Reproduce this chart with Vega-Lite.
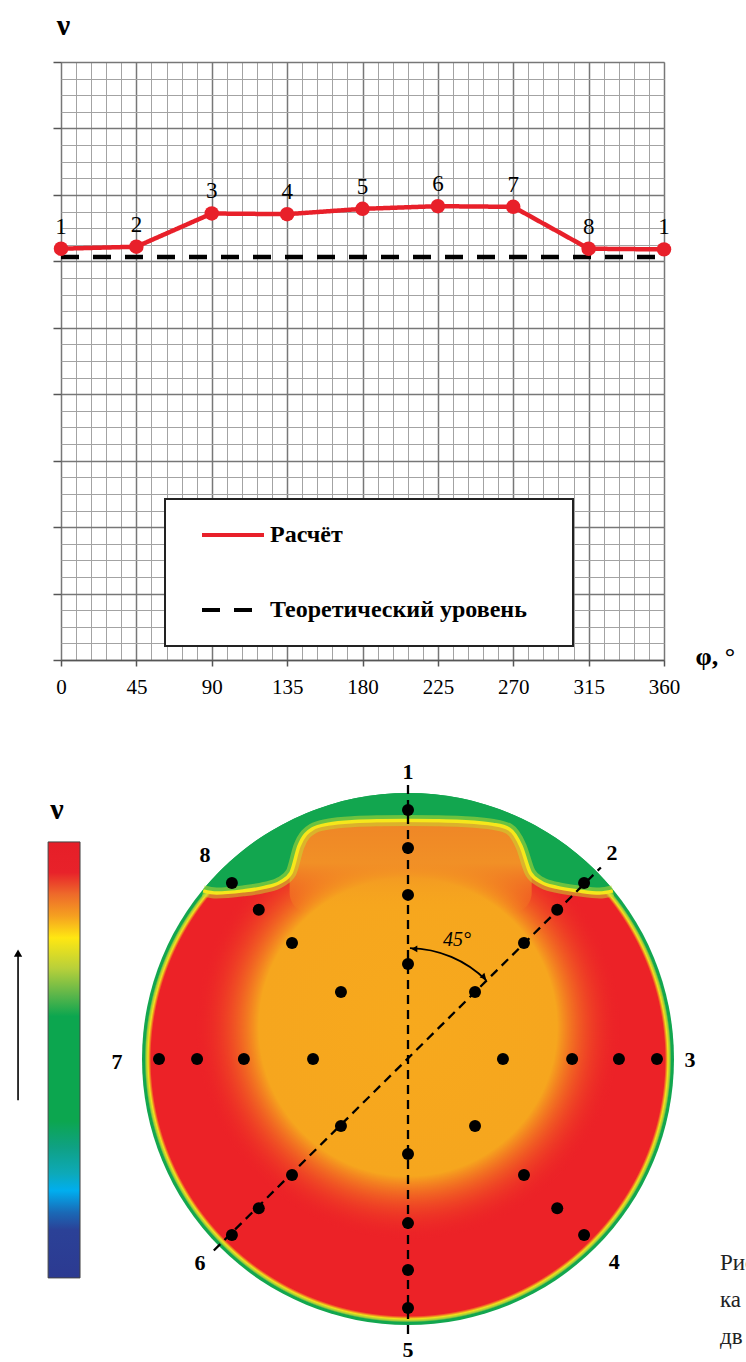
{
"$schema":"https://vega.github.io/schema/vega-lite/v6.json",
"width":603,"height":598,
"autosize":"none",
"padding":{"left":61,"top":62,"right":82,"bottom":702},
"background":"white",
"config":{"view":{"stroke":null},"font":"Liberation Serif","legend":{"strokeWidth":2}},
"datasets":{
"top":[
{"phi":0,"nu":6.19,"lab":"1","s":"Расчёт"},
{"phi":45,"nu":6.22,"lab":"2","s":"Расчёт"},
{"phi":90,"nu":6.72,"lab":"3","s":"Расчёт"},
{"phi":135,"nu":6.71,"lab":"4","s":"Расчёт"},
{"phi":180,"nu":6.79,"lab":"5","s":"Расчёт"},
{"phi":225,"nu":6.83,"lab":"6","s":"Расчёт"},
{"phi":270,"nu":6.82,"lab":"7","s":"Расчёт"},
{"phi":315,"nu":6.19,"lab":"8","s":"Расчёт"},
{"phi":360,"nu":6.18,"lab":"1","s":"Расчёт"},
{"phi":0,"nu":6.065,"s":"Теоретический уровень"},
{"phi":360,"nu":6.065,"s":"Теоретический уровень"}
],
"disc":[
{"part":"base","x":0,"y":0,"t0":0,"t1":360,"r":1},
{"part":"inner","x":0,"y":0.12,"t0":0,"t1":360,"r":0.8},
{"part":"angle","x":0,"y":0,"t0":1,"t1":45,"r":0.417}
],
"lobe":[{"x":-0.445,"y":0.89,"x2":0.465,"y2":0.55}],
"cap":[
{"x":-0.77,"y":0.638,"yb":0.632},
{"x":-0.72,"y":0.694,"yb":0.624},
{"x":-0.62,"y":0.785,"yb":0.632},
{"x":-0.54,"y":0.842,"yb":0.645},
{"x":-0.48,"y":0.877,"yb":0.665},
{"x":-0.44,"y":0.898,"yb":0.70},
{"x":-0.41,"y":0.912,"yb":0.80},
{"x":-0.36,"y":0.933,"yb":0.865},
{"x":-0.30,"y":0.954,"yb":0.883},
{"x":-0.20,"y":0.980,"yb":0.893},
{"x":-0.10,"y":0.995,"yb":0.896},
{"x":0,"y":1.0,"yb":0.897},
{"x":0.10,"y":0.995,"yb":0.896},
{"x":0.20,"y":0.980,"yb":0.893},
{"x":0.32,"y":0.947,"yb":0.882},
{"x":0.38,"y":0.925,"yb":0.865},
{"x":0.425,"y":0.905,"yb":0.80},
{"x":0.46,"y":0.888,"yb":0.70},
{"x":0.50,"y":0.866,"yb":0.665},
{"x":0.56,"y":0.828,"yb":0.645},
{"x":0.64,"y":0.768,"yb":0.632},
{"x":0.72,"y":0.694,"yb":0.624},
{"x":0.77,"y":0.638,"yb":0.632}
],
"lines":[
{"x":0,"y":1.03,"x2":0,"y2":-1.05},
{"x":-0.73,"y":-0.72,"x2":0.725,"y2":0.72}
],
"heads":[
{"end":"a","x":0.024,"y":0.414},
{"end":"b","x":0.286,"y":0.308}
],
"dots":[
{"x":0,"y":0.357},{"x":0,"y":0.617},{"x":0,"y":0.793},{"x":0,"y":0.936},
{"x":0.252,"y":0.252},{"x":0.436,"y":0.436},{"x":0.561,"y":0.561},{"x":0.662,"y":0.662},
{"x":0.357,"y":0},{"x":0.617,"y":0},{"x":0.793,"y":0},{"x":0.936,"y":0},
{"x":0.252,"y":-0.252},{"x":0.436,"y":-0.436},{"x":0.561,"y":-0.561},{"x":0.662,"y":-0.662},
{"x":0,"y":-0.357},{"x":0,"y":-0.617},{"x":0,"y":-0.793},{"x":0,"y":-0.936},
{"x":-0.252,"y":-0.252},{"x":-0.436,"y":-0.436},{"x":-0.561,"y":-0.561},{"x":-0.662,"y":-0.662},
{"x":-0.357,"y":0},{"x":-0.617,"y":0},{"x":-0.793,"y":0},{"x":-0.936,"y":0},
{"x":-0.252,"y":0.252},{"x":-0.436,"y":0.436},{"x":-0.561,"y":0.561},{"x":-0.662,"y":0.662}
],
"dirlab":[
{"x":0,"y":1.08,"t":"1"},{"x":0.767,"y":0.774,"t":"2"},{"x":1.06,"y":-0.005,"t":"3"},{"x":0.775,"y":-0.763,"t":"4"},
{"x":0,"y":-1.095,"t":"5"},{"x":-0.782,"y":-0.767,"t":"6"},{"x":-1.094,"y":-0.01,"t":"7"},{"x":-0.763,"y":0.767,"t":"8"}
],
"cbar":[{"x":-1.353,"y":0.816,"x2":-1.233,"y2":-0.823}],
"deg":[{"x":0.184,"y":0.447,"t":"45°"}],
"nu":[{"x":-1.32,"y":0.936,"t":"ν"}],
"arrow":[{"x":-1.466,"y":-0.155,"y2":0.39}],
"arrowhead":[{"x":-1.466,"y":0.398}],
"caption":[
{"x":1.173,"y":-0.767,"t":"Рис."},
{"x":1.173,"y":-0.906,"t":"ка"},
{"x":1.173,"y":-1.045,"t":"дв"},
{"x":1.173,"y":-1.184,"t":"зв"}
]
},
"resolve":{"scale":{"x":"independent","y":"independent"}},
"layer":[
{
"data":{"name":"top"},
"mark":{"type":"point","opacity":0},
"encoding":{
"x":{"field":"phi","type":"quantitative","scale":{"domain":[0,360],"nice":false},
"axis":{"orient":"bottom","values":[0,9,18,27,36,45,54,63,72,81,90,99,108,117,126,135,144,153,162,171,180,189,198,207,216,225,234,243,252,261,270,279,288,297,306,315,324,333,342,351,360],"grid":true,"gridColor":"#a3a3a3","gridWidth":1,"ticks":false,"labels":false,"domain":false,"title":null}},
"y":{"field":"nu","type":"quantitative","scale":{"domain":[0,9],"nice":false},
"axis":{"orient":"left","values":[0,0.25,0.5,0.75,1,1.25,1.5,1.75,2,2.25,2.5,2.75,3,3.25,3.5,3.75,4,4.25,4.5,4.75,5,5.25,5.5,5.75,6,6.25,6.5,6.75,7,7.25,7.5,7.75,8,8.25,8.5,8.75,9],"grid":true,"gridColor":"#a3a3a3","gridWidth":1,"ticks":false,"labels":false,"domain":false,"title":null}}
}
},
{
"data":{"name":"top"},
"encoding":{
"x":{"field":"phi","type":"quantitative","scale":{"domain":[0,360],"nice":false},
"axis":{"orient":"bottom","values":[0,45,90,135,180,225,270,315,360],"grid":true,"gridColor":"#777777","gridWidth":1.5,"domain":true,"domainColor":"#555555","domainWidth":1.5,"ticks":true,"tickSize":6,"tickColor":"#555555","tickWidth":1.5,"labelFont":"Liberation Serif","labelFontSize":21,"labelColor":"#000000","labelPadding":10,"labelFlush":false,"labelOverlap":false,
"title":"φ, °","titleX":634,"titleY":-4,"titleAlign":"left","titleBaseline":"middle","titleAngle":0,"titleFont":"Liberation Serif","titleFontSize":26,"titleFontWeight":"bold","titleColor":"#000000"}},
"y":{"field":"nu","type":"quantitative","scale":{"domain":[0,9],"nice":false},
"axis":{"orient":"left","values":[0,1,2,3,4,5,6,7,8,9],"grid":true,"gridColor":"#777777","gridWidth":1.5,"domain":false,"ticks":true,"tickSize":8,"tickColor":"#555555","tickWidth":1.5,"labels":false,
"title":"ν","titleX":2,"titleY":-37,"titleAngle":0,"titleAlign":"center","titleBaseline":"middle","titleFont":"Liberation Serif","titleFontSize":30,"titleFontWeight":"bold","titleColor":"#000000"}}
},
"layer":[
{"mark":{"type":"line","strokeWidth":4.5},
"encoding":{
"color":{"field":"s","type":"nominal","scale":{"domain":["Расчёт","Теоретический уровень"],"range":["#E8202A","#000000"]},
"legend":{"title":" ","titleOrient":"right","titlePadding":22,"titleFontSize":8,"orient":"none","legendX":104,"legendY":437,"symbolType":"stroke","symbolSize":3844,"symbolStrokeWidth":4,"symbolOffset":11,"clipHeight":24,"labelFont":"Liberation Serif","labelFontSize":24,"labelFontWeight":"bold","labelColor":"#000000","labelOffset":4,"labelLimit":400,"rowPadding":51,"padding":24,"strokeColor":"#222222","fillColor":"#ffffff"}},
"strokeDash":{"field":"s","type":"nominal","scale":{"domain":["Расчёт","Теоретический уровень"],"range":[[1,0],[18,14]]},
"legend":{"title":" ","titleOrient":"right","titlePadding":22,"titleFontSize":8,"orient":"none","legendX":104,"legendY":437,"symbolType":"stroke","symbolSize":3844,"symbolStrokeWidth":4,"symbolOffset":11,"clipHeight":24,"labelFont":"Liberation Serif","labelFontSize":24,"labelFontWeight":"bold","labelColor":"#000000","labelOffset":4,"labelLimit":400,"rowPadding":51,"padding":24,"strokeColor":"#222222","fillColor":"#ffffff"}}
}},
{"transform":[{"filter":"datum.s === 'Расчёт'"}],
"mark":{"type":"point","filled":true,"size":210,"color":"#E8202A","opacity":1}},
{"transform":[{"filter":"datum.s === 'Расчёт'"}],
"mark":{"type":"text","dy":-22,"font":"Liberation Serif","fontSize":23,"color":"#000000"},
"encoding":{"text":{"field":"lab"}}}
]
},
{
"encoding":{
"x":{"field":"x","type":"quantitative","scale":{"domain":[-1,1],"range":[81,613],"nice":false,"zero":false},"axis":null},
"y":{"field":"y","type":"quantitative","scale":{"domain":[-1,1],"range":[1263,731],"nice":false,"zero":false},"axis":null}
},
"layer":[
{"data":{"name":"disc"},"transform":[{"filter":"datum.part === 'base'"}],
"mark":{"type":"arc","fill":{"gradient":"radial","x1":0.5,"y1":0.5,"r1":0,"x2":0.5,"y2":0.5,"r2":0.5,
"stops":[{"offset":0,"color":"#EC2227"},{"offset":0.966,"color":"#EC2227"},{"offset":0.977,"color":"#F2E21C"},{"offset":0.985,"color":"#9CCB3B"},{"offset":0.99,"color":"#12A64F"},{"offset":1,"color":"#12A64F"}]}},
"encoding":{
"theta":{"field":"t0","type":"quantitative","scale":{"domain":[0,360],"range":[0,6.283185307179586],"nice":false,"zero":false},"stack":null},
"theta2":{"field":"t1"},
"radius":{"field":"r","type":"quantitative","scale":{"type":"linear","domain":[0,1],"range":[0,266],"nice":false,"zero":true}}
}},
{"data":{"name":"disc"},"transform":[{"filter":"datum.part === 'inner'"}],
"mark":{"type":"arc","fill":{"gradient":"radial","x1":0.5,"y1":0.5,"r1":0,"x2":0.5,"y2":0.5,"r2":0.5,
"stops":[{"offset":0,"color":"#F7A91D"},{"offset":0.70,"color":"#F6A61E"},{"offset":1,"color":"rgba(236,34,39,0)"}]}},
"encoding":{
"theta":{"field":"t0","type":"quantitative","scale":{"domain":[0,360],"range":[0,6.283185307179586],"nice":false,"zero":false},"stack":null},
"theta2":{"field":"t1"},
"radius":{"field":"r","type":"quantitative","scale":{"type":"linear","domain":[0,1],"range":[0,266],"nice":false,"zero":true}}
}},
{"data":{"name":"lobe"},
"mark":{"type":"rect","cornerRadius":20,"fill":{"gradient":"linear","x1":0,"y1":0,"x2":0,"y2":1,
"stops":[{"offset":0,"color":"#EF8626"},{"offset":0.45,"color":"#F19026"},{"offset":1,"color":"rgba(246,166,30,0)"}]}},
"encoding":{"x2":{"field":"x2"},"y2":{"field":"y2"}}},
{"data":{"name":"cap"},
"mark":{"type":"area","interpolate":"monotone","fill":"#12A64F","opacity":1},
"encoding":{"y2":{"field":"yb"}}},
{"data":{"name":"cap"},
"mark":{"type":"line","interpolate":"monotone","stroke":"#C5DE32","strokeWidth":11,"opacity":0.5,"strokeCap":"butt"},
"encoding":{"y":{"field":"yb","type":"quantitative","scale":{"domain":[-1,1],"range":[1263,731],"nice":false,"zero":false},"axis":null}}},
{"data":{"name":"cap"},
"mark":{"type":"line","interpolate":"monotone","stroke":"#F6E71B","strokeWidth":3.5,"strokeCap":"butt"},
"encoding":{"y":{"field":"yb","type":"quantitative","scale":{"domain":[-1,1],"range":[1263,731],"nice":false,"zero":false},"axis":null}}},
{"data":{"name":"lines"},
"mark":{"type":"rule","color":"#000000","strokeWidth":2.3,"strokeDash":[9,6]},
"encoding":{"x2":{"field":"x2"},"y2":{"field":"y2"}}},
{"data":{"name":"disc"},"transform":[{"filter":"datum.part === 'angle'"}],
"mark":{"type":"arc","filled":false,"stroke":"#000000","strokeWidth":1.8},
"encoding":{
"theta":{"field":"t0","type":"quantitative","scale":{"domain":[0,360],"range":[0,6.283185307179586],"nice":false,"zero":false},"stack":null},
"theta2":{"field":"t1"},
"radius":{"field":"r","type":"quantitative","scale":{"type":"linear","domain":[0,1],"range":[0,266],"nice":false,"zero":true}},
"radius2":{"field":"r"}
}},
{"data":{"name":"heads"},"transform":[{"filter":"datum.end === 'a'"}],
"mark":{"type":"point","shape":"triangle-left","filled":true,"size":45,"color":"#000000","opacity":1}},
{"data":{"name":"heads"},"transform":[{"filter":"datum.end === 'b'"}],
"mark":{"type":"point","shape":"triangle-right","angle":45,"filled":true,"size":45,"color":"#000000","opacity":1}},
{"data":{"name":"deg"},
"mark":{"type":"text","font":"Liberation Serif","fontStyle":"italic","fontSize":20,"color":"#000000"},
"encoding":{"text":{"field":"t"}}},
{"data":{"name":"dots"},
"mark":{"type":"point","shape":"circle","filled":true,"size":144,"color":"#000000","opacity":1}},
{"data":{"name":"dirlab"},
"mark":{"type":"text","font":"Liberation Serif","fontWeight":"bold","fontSize":22,"color":"#000000"},
"encoding":{"text":{"field":"t"}}},
{"data":{"name":"cbar"},
"mark":{"type":"rect","stroke":"#444444","strokeWidth":1,"fill":{"gradient":"linear","x1":0,"y1":0,"x2":0,"y2":1,
"stops":[{"offset":0,"color":"#E61E28"},{"offset":0.07,"color":"#E8222A"},{"offset":0.12,"color":"#EE6A2A"},{"offset":0.17,"color":"#F5A020"},{"offset":0.22,"color":"#FFE712"},{"offset":0.29,"color":"#B8D03A"},{"offset":0.35,"color":"#5DB64A"},{"offset":0.40,"color":"#0CA64F"},{"offset":0.64,"color":"#0CA64F"},{"offset":0.70,"color":"#0FA183"},{"offset":0.76,"color":"#0DA9B8"},{"offset":0.80,"color":"#00AEEF"},{"offset":0.85,"color":"#1A69B6"},{"offset":0.89,"color":"#2B4197"},{"offset":1,"color":"#2C3A91"}]}},
"encoding":{"x2":{"field":"x2"},"y2":{"field":"y2"}}},
{"data":{"name":"nu"},
"mark":{"type":"text","font":"Liberation Serif","fontWeight":"bold","fontSize":30,"color":"#000000"},
"encoding":{"text":{"field":"t"}}},
{"data":{"name":"arrow"},
"mark":{"type":"rule","color":"#000000","strokeWidth":1.6},
"encoding":{"y2":{"field":"y2"}}},
{"data":{"name":"arrowhead"},
"mark":{"type":"point","shape":"triangle-up","filled":true,"size":70,"color":"#000000","opacity":1}},
{"data":{"name":"caption"},
"mark":{"type":"text","align":"left","font":"Liberation Serif","fontSize":23,"color":"#222222"},
"encoding":{"text":{"field":"t"}}}
]
}
]
}
